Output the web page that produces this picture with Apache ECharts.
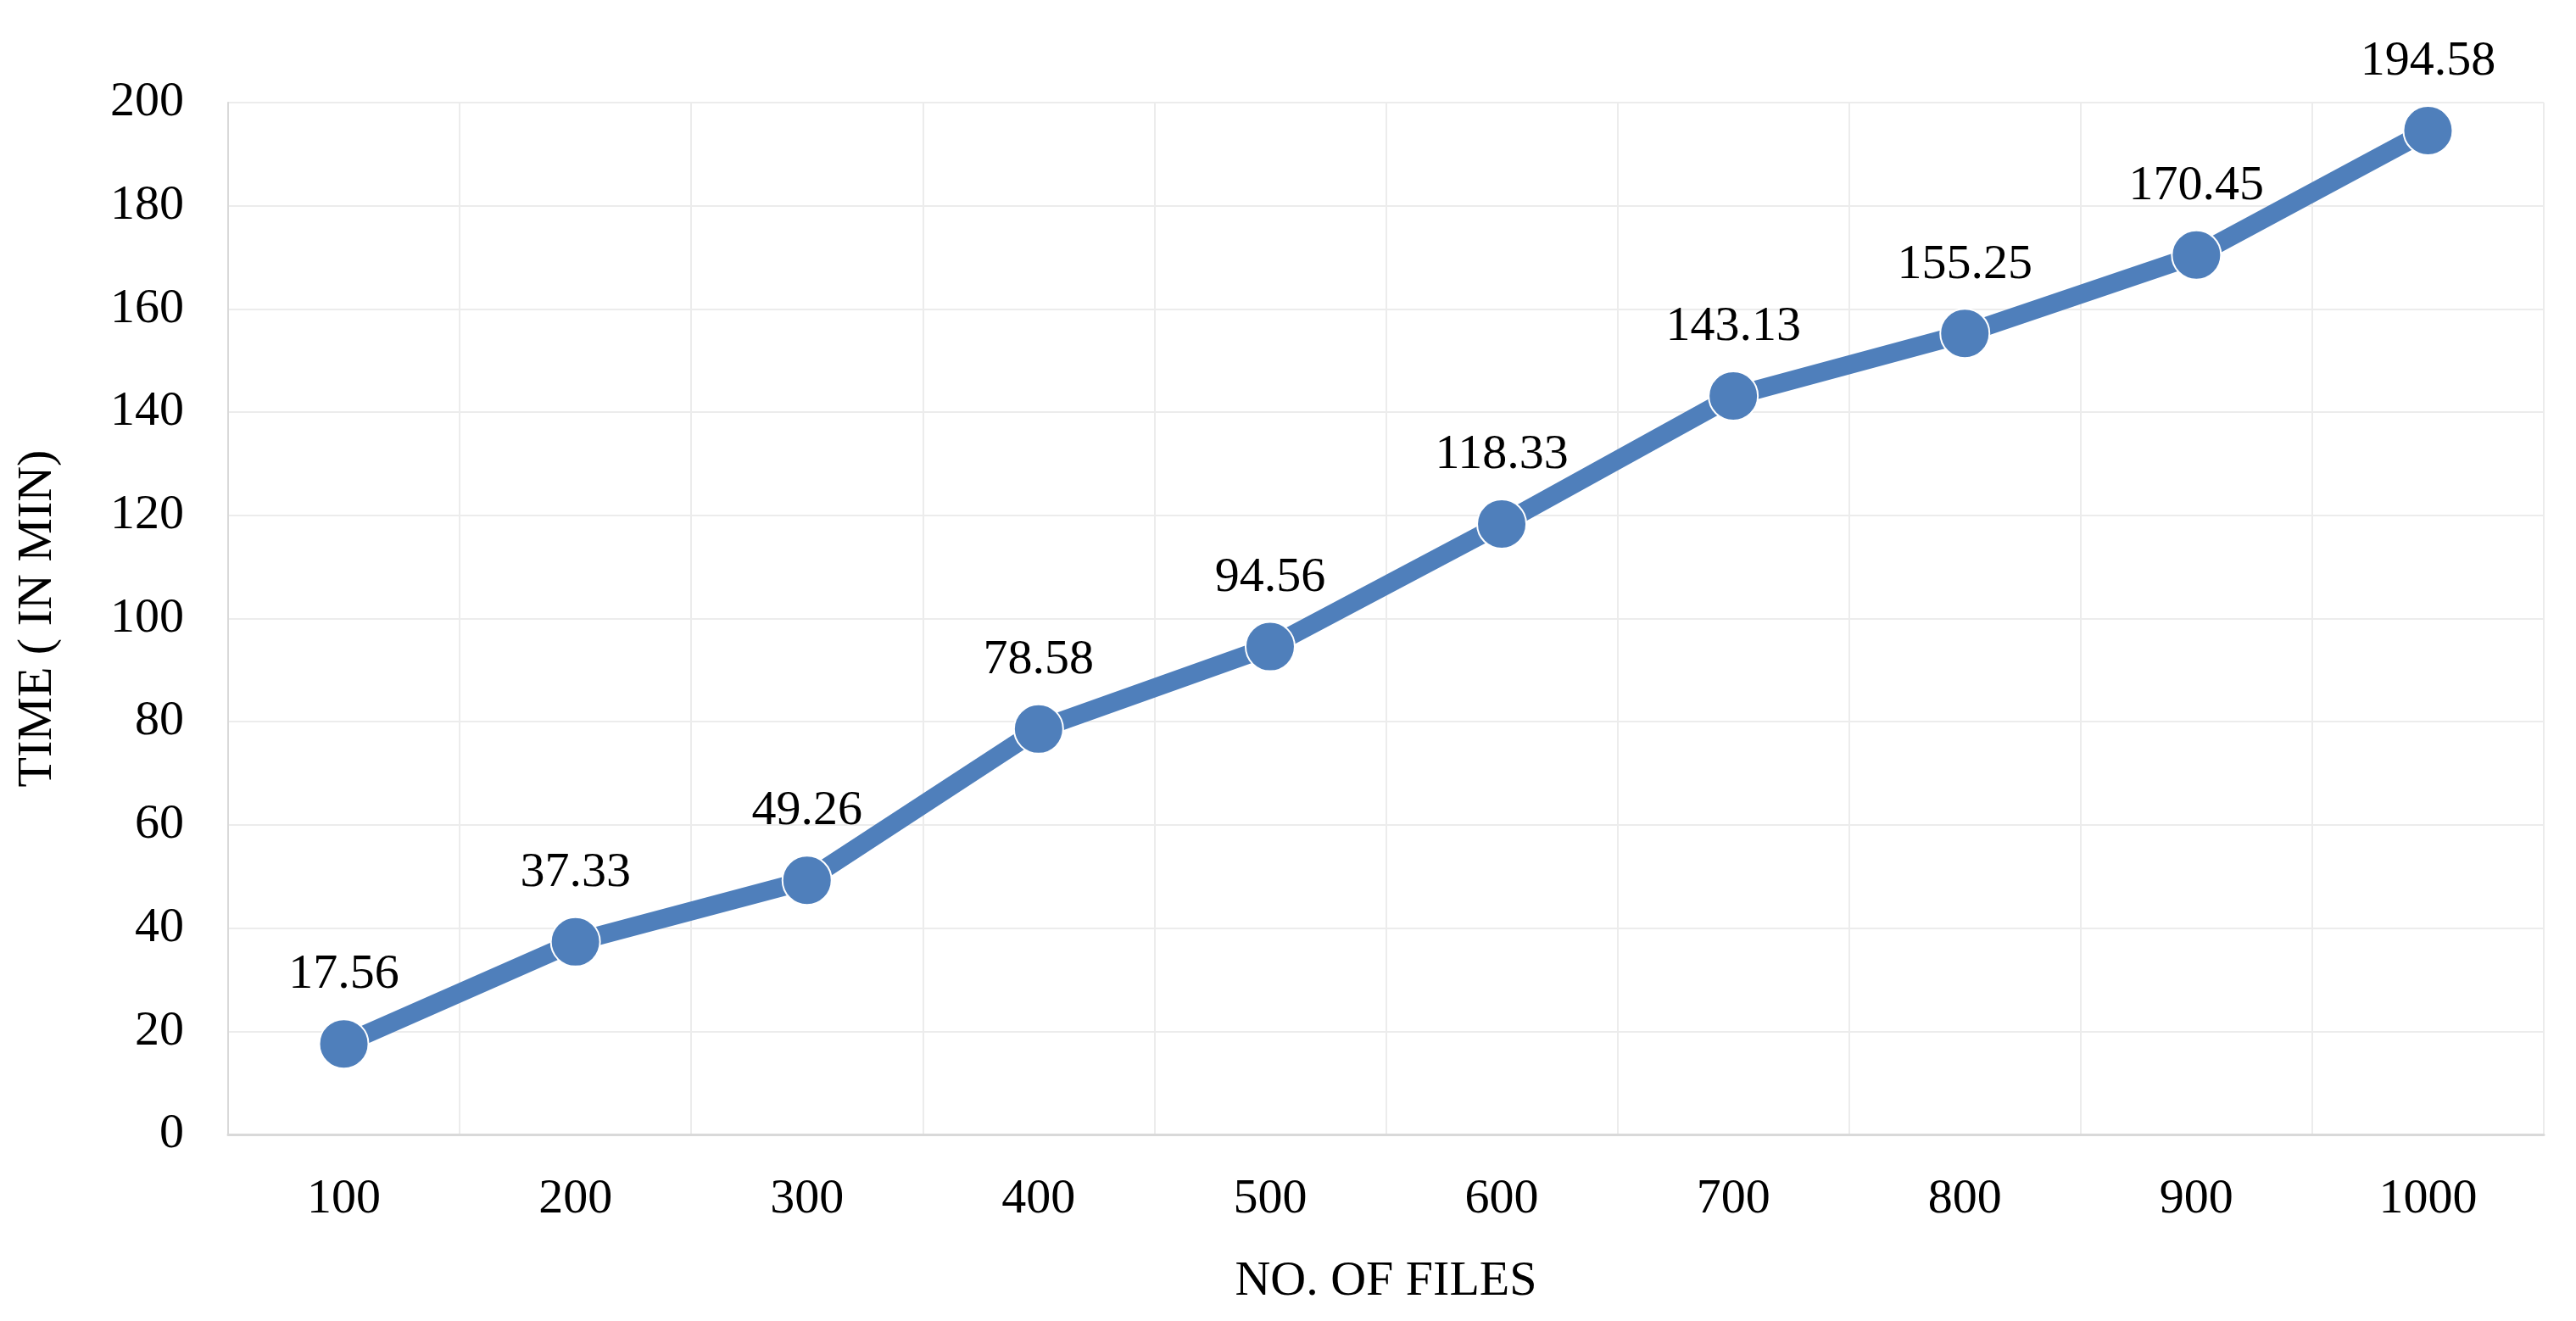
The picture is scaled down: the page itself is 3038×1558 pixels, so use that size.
<!DOCTYPE html>
<html>
<head>
<meta charset="utf-8">
<script src="https://cdn.jsdelivr.net/npm/echarts@6/dist/echarts.min.js"></script>
<style>html,body{margin:0;padding:0;background:#fff}#main{width:3038px;height:1558px}</style>
</head>
<body>
<div id="main"></div>
<script>
// 数据
var files = ['100', '200', '300', '400', '500', '600', '700', '800', '900', '1000'];
var times = [17.56, 37.33, 49.26, 78.58, 94.56, 118.33, 143.13, 155.25, 170.45, 194.58];

var font = 'Liberation Serif';
var myChart = echarts.init(document.getElementById('main'));
myChart.setOption({
    textStyle: { fontFamily: font },
    grid: { left: 269, right: 38, top: 121, bottom: 220 },
    xAxis: {
        type: 'category',
        data: files,
        name: 'NO. OF FILES',
        nameLocation: 'middle',
        nameGap: 145,
        nameTextStyle: { fontFamily: font, fontSize: 58, color: '#000' },
        axisLine: { lineStyle: { color: '#d9d9d9', width: 3 } },
        axisTick: { show: false },
        axisLabel: { fontFamily: font, fontSize: 58, color: '#000', margin: 48 },
        splitLine: { show: true, lineStyle: { color: '#ececec', width: 2 } }
    },
    yAxis: {
        type: 'value',
        min: 0,
        max: 200,
        interval: 20,
        name: 'TIME ( IN MIN)',
        nameLocation: 'middle',
        nameGap: 195,
        nameTextStyle: { fontFamily: font, fontSize: 58, color: '#000' },
        axisLine: { show: true, lineStyle: { color: '#d9d9d9', width: 2 } },
        axisLabel: { fontFamily: font, fontSize: 58, color: '#000', margin: 52 },
        splitLine: { lineStyle: { color: '#ececec', width: 2 } }
    },
    series: [{
        type: 'line',
        data: times,
        symbol: 'circle',
        symbolSize: 58,
        lineStyle: { color: '#4f7fbb', width: 22 },
        itemStyle: { color: '#4f7fbb', borderColor: '#fff', borderWidth: 2 },
        label: {
            show: true,
            position: 'top',
            distance: 22,
            fontFamily: font,
            fontSize: 58,
            color: '#000'
        }
    }]
});
</script>
</body>
</html>
